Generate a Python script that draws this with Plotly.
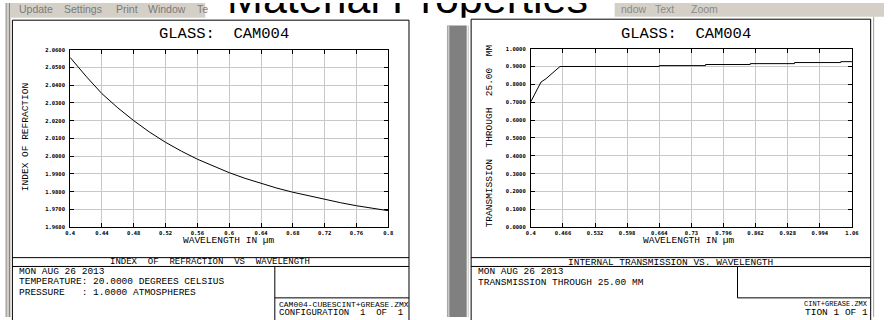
import plotly.graph_objects as go

W, H = 891, 320

# ---------------- data ----------------
# Index of refraction of CAM004 versus wavelength (micrometres)
wavelength_n = [0.40, 0.42, 0.44, 0.46, 0.48, 0.50, 0.52, 0.54, 0.56, 0.58, 0.60,
                0.62, 0.64, 0.66, 0.68, 0.70, 0.72, 0.74, 0.76, 0.78, 0.80]
index_n = [2.0556, 2.0450, 2.0352, 2.0272, 2.0200, 2.0135, 2.0078, 2.0028, 1.9983,
           1.9943, 1.9907, 1.9875, 1.9846, 1.9820, 1.9797, 1.9776, 1.9756, 1.9738,
           1.9721, 1.9706, 1.9693]

# Internal transmission through 25.00 mm
wavelength_t = [0.400, 0.421, 0.431, 0.460, 0.664, 0.664, 0.759, 0.759, 0.851, 0.851,
                0.942, 0.942, 1.037, 1.037, 1.060]
transmission = [0.703, 0.813, 0.831, 0.900, 0.900, 0.905, 0.905, 0.911, 0.911, 0.916,
                0.916, 0.922, 0.922, 0.927, 0.927]

n_xtickvals = [0.40, 0.44, 0.48, 0.52, 0.56, 0.60, 0.64, 0.68, 0.72, 0.76, 0.80]
n_xticktext = ["0.4", "0.44", "0.48", "0.52", "0.56", "0.6", "0.64", "0.68", "0.72", "0.76", "0.8"]
n_ytickvals = [1.96, 1.97, 1.98, 1.99, 2.00, 2.01, 2.02, 2.03, 2.04, 2.05, 2.06]
n_yticktext = ["1.9600", "1.9700", "1.9800", "1.9900", "2.0000", "2.0100", "2.0200",
               "2.0300", "2.0400", "2.0500", "2.0600"]
t_xtickvals = [0.4, 0.466, 0.532, 0.598, 0.664, 0.73, 0.796, 0.862, 0.928, 0.994, 1.06]
t_xticktext = ["0.4", "0.466", "0.532", "0.598", "0.664", "0.73", "0.796", "0.862",
               "0.928", "0.994", "1.06"]
t_ytickvals = [0.0, 0.1, 0.2, 0.3, 0.4, 0.5, 0.6, 0.7, 0.8, 0.9, 1.0]
t_yticktext = ["0.0000", "0.1000", "0.2000", "0.3000", "0.4000", "0.5000", "0.6000",
               "0.7000", "0.8000", "0.9000", "1.0000"]

# ---------------- helpers (pixel -> paper) ----------------
def fx(x):
    return x / W

def fy(y):
    return 1 - y / H

MONO = "Liberation Mono"
GUI = "Liberation Sans"
FACE = "#d4d0c8"

shapes = []
annotations = []


def rect(x0, y0, x1, y1, fill="rgba(0,0,0,0)", line=None, width=1):
    shapes.append(dict(type="rect", xref="paper", yref="paper",
                       x0=fx(x0), x1=fx(x1), y0=fy(y1), y1=fy(y0),
                       fillcolor=fill,
                       line=dict(color=line or "rgba(0,0,0,0)", width=width if line else 0),
                       layer="above"))


def seg(x0, y0, x1, y1, color="black", width=1):
    shapes.append(dict(type="line", xref="paper", yref="paper",
                       x0=fx(x0), x1=fx(x1), y0=fy(y0), y1=fy(y1),
                       line=dict(color=color, width=width), layer="above"))


def label(x, y, text, size=9.5, anchor="left", family=MONO, color="black", angle=0):
    annotations.append(dict(x=fx(x), y=fy(y), xref="paper", yref="paper", text=text,
                            showarrow=False, xanchor=anchor, yanchor="middle",
                            textangle=angle, font=dict(family=family, size=size, color=color)))


# ---------------- window chrome ----------------
rect(0, 0, 203, 15, fill=FACE)                 # left menu bar
rect(618, 0, 891, 14, fill=FACE)               # right menu bar
rect(0, 0, 6, H, fill=FACE)                    # left window frame
seg(1.5, 0, 1.5, H, color="#a8a8a8")
seg(4.5, 0, 4.5, H, color="#808080")
rect(448, 23, 468, H, fill="#808080")          # splitter between windows
seg(449.5, 23, 449.5, H, color="#c8c8c8", width=2)
seg(469.5, 23, 469.5, H, color="#c0c0c0")
seg(880.5, 14, 880.5, H, color="#a0a0a0")

for x, t in [(12, "Update"), (58, "Settings"), (110, "Print"), (143, "Window"), (193, "Te")]:
    label(x, 6.5, t, size=10.5, family=GUI, color="#7a7a7a")
for x, t in [(622, "ndow"), (657, "Text"), (693, "Zoom")]:
    label(x, 6, t, size=10.5, family=GUI, color="#8a8a8a")

# ---------------- left graphic frame ----------------
rect(7.5, 17.5, 409.5, 330, line="black")
seg(7.5, 259.5, 409.5, 259.5)
seg(7.5, 268.5, 409.5, 268.5)
seg(273.5, 268.5, 273.5, 330)
seg(273.5, 300.5, 409.5, 300.5)

label(222, 32, "GLASS:  CAM004", size=15.5, anchor="center")
label(21, 137, "INDEX OF REFRACTION", size=9.5, anchor="center", angle=-90)
label(227, 242.5, "WAVELENGTH IN \u00b5m", size=9.5, anchor="center")
label(208, 264, "INDEX  OF  REFRACTION  VS  WAVELENGTH", size=9, anchor="center")
label(12, 274, "MON AUG 26 2013", size=9.5)
label(12, 284, "TEMPERATURE: 20.0000 DEGREES CELSIUS", size=9.5)
label(12, 295.5, "PRESSURE   : 1.0000 ATMOSPHERES", size=9.5)
label(276, 307, "CAM004-CUBESCINT+GREASE.ZMX", size=8)
label(276, 315.5, "CONFIGURATION  1  OF  1", size=9)

# ---------------- right graphic frame ----------------
rect(472.5, 16.5, 877.5, 330, line="black")
seg(472.5, 259.5, 877.5, 259.5)
seg(472.5, 268.5, 877.5, 268.5)
seg(742.5, 268.5, 742.5, 300.5)
seg(742.5, 300.5, 877.5, 300.5)

label(690.5, 32, "GLASS:  CAM004", size=15.5, anchor="center")
label(491.5, 135, "TRANSMISSION  THROUGH  25.00  MM", size=9.5, anchor="center", angle=-90)
label(693, 242.5, "WAVELENGTH IN \u00b5m", size=9.5, anchor="center")
label(675, 264, "INTERNAL TRANSMISSION VS. WAVELENGTH", size=9.5, anchor="center")
label(477, 274, "MON AUG 26 2013", size=9.5)
label(477, 284.5, "TRANSMISSION THROUGH 25.00 MM", size=9.5)
label(876.5, 306.5, "CINT+GREASE.ZMX", size=7, anchor="right")
label(876.5, 315, "TION 1 OF 1", size=9.5, anchor="right")

# ---------------- traces ----------------
fig = go.Figure()
fig.add_trace(go.Scatter(x=wavelength_n, y=index_n, mode="lines",
                         line=dict(color="black", width=1), xaxis="x", yaxis="y",
                         showlegend=False, hoverinfo="skip"))
fig.add_trace(go.Scatter(x=wavelength_t, y=transmission, mode="lines",
                         line=dict(color="black", width=1), xaxis="x2", yaxis="y2",
                         showlegend=False, hoverinfo="skip"))
# slide title, clipped to its white strip
fig.add_trace(go.Scatter(x=[408], y=[-0.5], mode="text", text=["Material Properties"],
                         textfont=dict(family=GUI, size=43, color="black"),
                         xaxis="x3", yaxis="y3", cliponaxis=True,
                         showlegend=False, hoverinfo="skip"))

tickfont = dict(family="DejaVu Sans Mono", size=5.5, color="black", weight="bold")
common = dict(showline=True, linecolor="black", linewidth=1, mirror="ticks",
              ticks="inside", ticklen=4, tickcolor="black", tickwidth=1,
              showgrid=True, gridcolor="#c8c8c8", gridwidth=1, zeroline=False,
              tickfont=tickfont, tickmode="array", fixedrange=True)

fig.update_layout(
    width=W, height=H, autosize=False,
    margin=dict(l=0, r=0, t=0, b=0, pad=0),
    paper_bgcolor="white", plot_bgcolor="white",
    shapes=shapes, annotations=annotations,
    xaxis=dict(domain=[fx(66), fx(388.5)], range=[0.4, 0.8], anchor="y",
               tickvals=n_xtickvals, ticktext=n_xticktext, **common),
    yaxis=dict(domain=[fy(228.5), fy(47.5)], range=[1.96, 2.06], anchor="x",
               tickvals=n_ytickvals, ticktext=n_yticktext, ticklabelstandoff=3, **common),
    xaxis2=dict(domain=[fx(533), fx(858.5)], range=[0.4, 1.06], anchor="y2",
                tickvals=t_xtickvals, ticktext=t_xticktext, **common),
    yaxis2=dict(domain=[fy(228.5), fy(46.5)], range=[0.0, 1.0], anchor="x2",
                tickvals=t_ytickvals, ticktext=t_yticktext, ticklabelstandoff=3, **common),
    xaxis3=dict(domain=[fx(203), fx(618)], range=[203, 618], visible=False,
                anchor="y3", fixedrange=True),
    yaxis3=dict(domain=[fy(15), 1.0], range=[15, 0], visible=False,
                anchor="x3", fixedrange=True),
)

fig.write_html("out.html")
